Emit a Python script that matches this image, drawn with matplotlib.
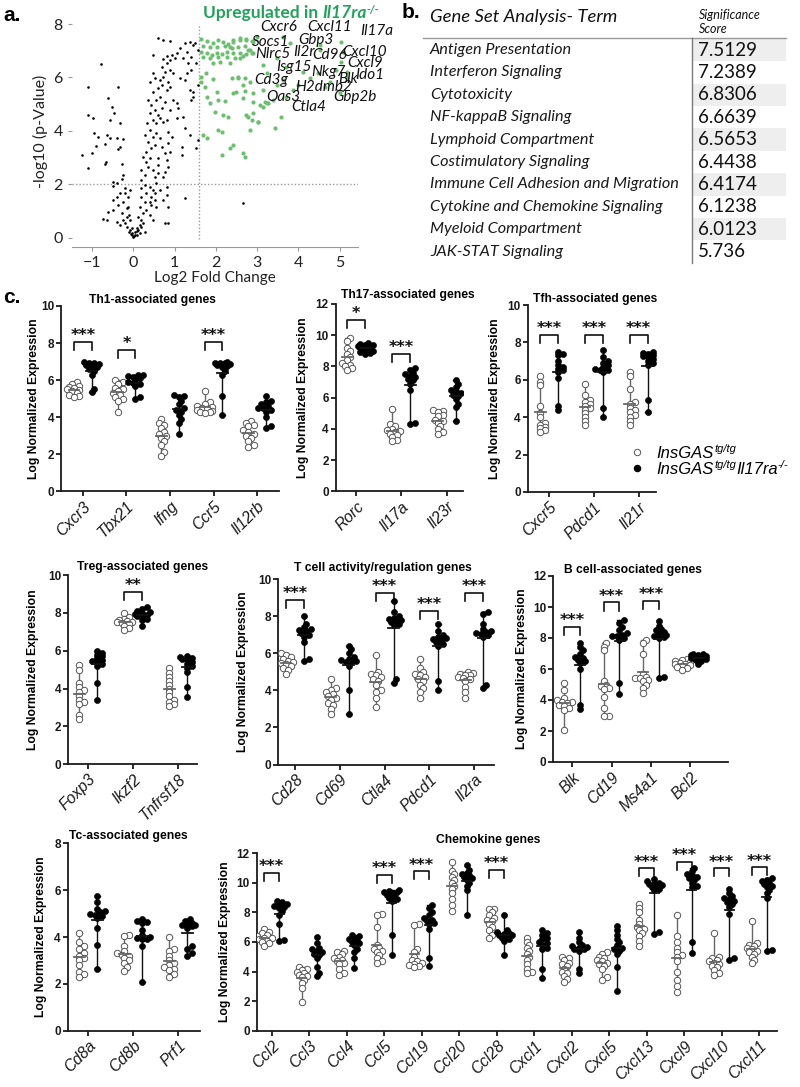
import matplotlib
matplotlib.use("Agg")
import matplotlib.pyplot as plt
import numpy as np
from matplotlib.patches import Rectangle

# ------------------------------------------------------------------ data
# panel a: volcano (log2 fold change, -log10 p)
volc_ns_pts = [
    (-0.78, 6.52), (-1.09, 5.65), (-0.36, 5.65), (-0.62, 5.24), (-0.52, 4.88), (-0.46, 4.66), (-0.56, 4.41),
    (-0.32, 4.31), (-1.09, 4.59), (-0.97, 4.47), (-0.95, 3.91), (-0.86, 3.76), (-0.63, 3.85), (-0.56, 3.72),
    (-0.40, 3.72), (-0.24, 3.68), (-0.89, 3.43), (-0.69, 3.51), (-0.32, 3.41), (-0.36, 3.31), (-1.23, 3.10),
    (-1.01, 3.16), (-0.66, 2.85), (-1.09, 2.60), (-0.69, 2.76), (-0.26, 2.76), (-0.24, 2.35), (-0.28, 2.18),
    (-0.48, 2.07), (-0.50, 1.95), (-0.20, 1.85), (-0.32, 1.66), (-0.40, 1.54), (-0.50, 1.41), (-0.24, 1.35),
    (-0.12, 1.54), (-0.36, 1.22), (-0.16, 1.10), (-0.48, 1.04), (-0.61, 0.97), (-0.28, 0.91), (-0.10, 0.85),
    (-0.73, 0.69), (-0.63, 0.66), (-0.40, 0.60), (-0.20, 0.54), (-0.15, 0.41), (-0.08, 0.29), (-0.04, 0.16),
    (0.00, 0.04), (-0.10, 0.22), (0.04, 0.10), (-0.24, 0.66), (-0.32, 0.47), (-0.16, 0.79), (-0.08, 0.66),
    (-0.04, 0.35), (-0.12, 1.16), (-0.20, 1.66), (-0.08, 1.79), (-0.40, 2.03), (0.02, 0.05), (-0.03, 0.08),
    (0.05, 0.20), (-0.06, 0.12), (0.10, 0.10), (0.08, 0.25),
    (0.12, 0.29), (0.16, 0.47), (0.20, 0.66), (0.12, 0.79), (0.24, 0.91), (0.16, 1.16), (0.28, 1.35),
    (0.20, 1.54), (0.32, 1.66), (0.18, 1.85), (0.28, 1.97), (0.40, 1.91), (0.48, 1.79), (0.52, 1.41),
    (0.44, 1.22), (0.56, 1.16), (0.32, 1.04), (0.40, 0.85), (0.48, 0.66), (0.20, 0.41), (0.28, 0.22),
    (0.08, 0.35), (0.16, 0.16), (0.24, 0.54), (0.18, 2.16), (0.28, 2.35), (0.20, 2.53), (0.36, 2.66),
    (0.31, 2.85), (0.24, 3.03), (0.40, 2.97), (0.48, 2.53), (0.52, 2.28), (0.61, 2.72), (0.32, 3.22),
    (0.44, 3.35), (0.52, 3.47), (0.36, 3.60), (0.28, 3.85), (0.48, 3.78), (0.56, 3.91), (0.65, 3.72),
    (0.40, 4.03), (0.34, 4.28), (0.47, 4.41), (0.56, 4.28), (0.65, 4.47), (0.73, 4.34), (0.81, 4.41),
    (0.40, 4.66), (0.52, 4.78), (0.61, 4.59), (0.69, 4.84), (0.44, 4.97), (0.56, 5.16), (0.65, 5.28),
    (0.77, 5.09), (0.36, 5.16), (0.48, 5.47), (0.61, 5.59), (0.69, 5.72), (0.81, 5.53), (0.89, 5.66),
    (0.40, 5.84), (0.52, 5.97), (0.65, 5.91), (0.73, 6.03), (0.85, 5.84), (0.77, 6.22), (0.89, 6.28),
    (0.97, 6.15), (0.48, 6.15), (0.69, 6.40), (0.81, 6.53), (0.89, 6.65), (1.01, 6.72), (1.05, 6.90),
    (0.93, 6.84), (0.81, 6.80), (0.73, 6.68), (0.48, 6.84), (0.61, 7.47), (0.73, 7.40), (0.89, 7.38),
    (1.13, 7.09), (1.25, 7.28), (1.29, 6.97), (1.21, 6.72), (1.33, 6.53), (1.41, 6.78), (1.45, 7.22),
    (1.37, 7.34), (1.49, 7.30), (1.41, 6.28), (1.29, 6.15), (1.25, 5.91), (1.13, 5.97), (1.37, 5.53),
    (1.45, 5.47), (1.41, 5.16), (1.21, 4.53), (1.25, 4.09), (1.37, 3.85), (1.45, 5.28), (0.89, 4.78),
    (0.97, 5.16), (1.05, 5.03), (1.09, 4.84), (0.85, 3.97), (1.05, 4.47), (0.93, 3.78), (0.81, 2.91),
    (0.85, 2.66), (0.77, 2.47), (0.73, 2.28), (0.81, 1.91), (0.81, 1.60), (0.73, 1.41), (0.85, 1.16),
    (0.77, 0.54), (0.85, 0.54), (1.17, 3.41), (1.17, 3.10), (1.57, 3.66), (1.53, 3.35), (1.25, 1.47),
    (0.85, 3.53), (0.89, 3.22), (0.77, 3.16), (0.61, 2.41), (0.56, 2.03), (0.65, 1.79), (0.52, 1.66),
    (0.44, 1.54), (0.40, 1.35), (0.61, 2.97), (0.69, 3.41), (1.57, 5.72), (1.53, 6.53), (1.57, 7.03),
    (2.65, 1.31),
]
volc_up_pts = [
    (1.65, 7.43), (1.78, 7.38), (1.94, 7.28), (2.06, 7.40), (2.18, 7.34), (2.30, 7.25), (2.42, 7.40),
    (2.58, 7.47), (2.74, 7.43), (2.87, 7.38), (1.69, 7.18), (1.86, 7.15), (2.02, 7.13), (2.22, 7.18),
    (2.38, 7.09), (2.54, 7.15), (2.70, 7.18), (2.82, 7.03), (1.65, 6.97), (1.78, 6.90), (1.90, 6.84),
    (2.02, 6.93), (2.14, 6.88), (2.26, 6.97), (2.42, 6.93), (2.58, 6.90), (2.74, 6.88), (2.87, 6.93),
    (1.69, 6.78), (1.86, 6.72), (2.06, 6.75), (2.26, 6.78), (2.46, 6.72), (2.66, 6.80), (2.10, 6.59),
    (2.34, 6.53), (1.94, 6.55),
    (1.65, 6.03), (1.76, 6.15), (1.94, 5.93), (1.65, 5.84), (1.74, 5.66), (1.78, 5.28), (2.02, 5.47),
    (2.06, 5.16), (1.86, 5.06), (2.22, 5.13), (2.38, 5.97), (2.54, 6.00), (2.66, 5.72), (2.70, 5.51),
    (2.50, 5.47), (2.82, 5.84), (3.07, 4.97), (3.19, 5.09), (3.27, 5.03), (1.98, 4.72), (2.18, 4.59),
    (2.30, 4.53), (2.78, 4.53), (2.87, 4.41), (3.03, 4.34), (1.69, 3.85), (1.78, 3.72), (2.06, 4.03),
    (2.14, 3.97), (2.82, 4.03), (2.42, 3.47), (2.34, 3.35), (2.14, 3.10), (2.66, 3.16), (2.70, 3.03),
    (2.78, 7.03), (2.91, 6.90), (3.15, 6.47), (3.23, 6.15), (3.47, 6.72), (3.63, 5.91), (3.71, 6.40),
    (3.87, 5.53), (4.00, 5.72), (4.12, 6.22), (4.28, 5.97), (4.48, 6.15), (4.64, 5.66), (4.76, 5.84),
    (4.92, 6.28), (5.04, 6.59), (5.08, 6.97), (5.17, 6.22), (5.00, 5.41), (2.91, 5.09), (3.15, 4.91),
    (3.23, 5.06), (3.39, 5.16), (3.59, 4.53), (3.43, 4.09), (2.91, 4.66), (3.03, 4.34), (2.74, 4.59),
    (2.42, 5.41), (2.66, 5.22), (2.70, 5.97), (2.54, 5.97), (3.47, 5.72), (3.71, 5.28), (2.91, 5.41),
    (3.15, 5.53), (5.04, 7.34), (4.52, 7.22), (3.79, 7.28), (4.52, 7.03), (5.17, 6.03), (2.74, 7.40),
    (2.91, 7.34), (2.58, 7.40), (2.42, 7.34), (2.34, 7.15), (2.99, 7.53), (3.63, 7.53), (2.58, 6.72),
]
fc_cut = 1.585
p_cut = 2.0
volc_genes = ['Cxcr6', 'Cxcl11', 'Il17a', 'Socs1', 'Gbp3', 'Nlrc5', 'Il2r', 'Cd96', 'Cxcl10', 'Cxcl9',
              'Isg15', 'Nkg7', 'Blk', 'Ido1', 'Cd3g', 'H2dmb2', 'Gbp2b', 'Oas3', 'Ctla4']
volc_gene_x = [3.53, 4.76, 5.89, 3.33, 4.42, 3.38, 4.13, 4.76, 5.61, 5.61,
               3.89, 4.72, 5.21, 5.73, 3.33, 4.60, 5.37, 3.63, 4.26]
volc_gene_y = [7.90, 7.88, 7.75, 7.34, 7.40, 6.88, 6.94, 6.84, 6.97, 6.53,
               6.40, 6.22, 5.94, 6.09, 5.91, 5.66, 5.28, 5.28, 4.91]

# panel b: gene set analysis
gsa_terms = ['Antigen Presentation', 'Interferon Signaling', 'Cytotoxicity', 'NF-kappaB Signaling',
             'Lymphoid Compartment', 'Costimulatory Signaling', 'Immune Cell Adhesion and Migration',
             'Cytokine and Chemokine Signaling', 'Myeloid Compartment', 'JAK-STAT Signaling']
gsa_scores = [7.5129, 7.2389, 6.8306, 6.6639, 6.5653, 6.4438, 6.4174, 6.1238, 6.0123, 5.736]

# panel c: log normalized expression, InsGAS (wt) vs InsGAS Il17ra-/- (ko)
th1_genes = ['Cxcr3', 'Tbx21', 'Ifng', 'Ccr5', 'Il12rb']
th1_wt = [[5.9, 5.8, 5.7, 5.65, 5.6, 5.5, 5.45, 5.4, 5.3, 5.2, 5.15, 5.1],
          [6.0, 5.9, 5.8, 5.6, 5.5, 5.4, 5.3, 5.2, 5.1, 5.0, 4.9, 4.3],
          [3.9, 3.7, 3.6, 3.4, 3.2, 3.1, 3.0, 2.9, 2.7, 2.5, 2.1, 1.9],
          [5.4, 4.8, 4.7, 4.6, 4.55, 4.5, 4.45, 4.4, 4.35, 4.3, 4.3, 4.25],
          [3.8, 3.7, 3.6, 3.5, 3.3, 3.2, 3.1, 3.0, 2.9, 2.7, 2.5, 2.4]]
th1_ko = [[7.0, 6.95, 6.9, 6.85, 6.8, 6.75, 6.7, 6.6, 6.5, 6.3, 5.5, 5.35],
          [6.3, 6.25, 6.2, 6.15, 6.1, 6.0, 5.9, 5.85, 5.8, 5.7, 5.1, 5.0],
          [5.2, 5.15, 5.1, 4.9, 4.7, 4.5, 4.4, 4.3, 4.1, 3.9, 3.7, 3.1],
          [7.0, 6.95, 6.9, 6.9, 6.85, 6.8, 6.75, 6.7, 6.5, 6.3, 5.15, 4.1],
          [5.15, 4.9, 4.8, 4.7, 4.6, 4.5, 4.5, 4.4, 4.3, 4.0, 3.5, 3.4]]
th1_sig = [(0, '***', 8.07), (1, '*', 7.63), (3, '***', 8.07)]

th17_genes = ['Rorc', 'Il17a', 'Il23r']
th17_wt = [[9.8, 9.6, 9.2, 9.0, 8.8, 8.6, 8.4, 8.2, 8.1, 8.0, 7.9, 7.8],
           [5.3, 4.3, 4.2, 4.0, 3.9, 3.85, 3.8, 3.7, 3.6, 3.5, 3.3, 3.2],
           [5.2, 5.15, 5.1, 4.9, 4.8, 4.6, 4.5, 4.4, 4.2, 4.0, 3.8, 3.7]]
th17_ko = [[9.5, 9.45, 9.4, 9.35, 9.3, 9.2, 9.15, 9.1, 9.0, 8.9, 8.85, 8.8],
           [7.9, 7.8, 7.6, 7.5, 7.4, 7.3, 7.2, 7.1, 6.9, 6.5, 4.4, 4.3],
           [7.1, 6.9, 6.7, 6.5, 6.4, 6.3, 6.2, 6.1, 5.9, 5.6, 5.4, 4.5]]
th17_sig = [(0, '*', 10.98), (1, '***', 8.8)]

tfh_genes = ['Cxcr5', 'Pdcd1', 'Il21r']
tfh_wt = [[6.2, 5.9, 5.7, 4.6, 4.2, 4.0, 3.7, 3.6, 3.5, 3.4, 3.3, 3.2],
          [5.75, 5.2, 4.9, 4.8, 4.7, 4.6, 4.5, 4.4, 4.2, 4.0, 3.8, 3.6],
          [6.4, 6.2, 5.5, 4.8, 4.7, 4.5, 4.4, 4.3, 4.1, 4.0, 3.8, 3.6]]
tfh_ko = [[7.5, 7.4, 7.3, 7.0, 6.8, 6.7, 6.6, 6.5, 6.4, 6.1, 4.6, 4.4],
          [7.6, 7.2, 7.0, 6.9, 6.8, 6.7, 6.6, 6.55, 6.5, 6.4, 4.5, 4.0],
          [7.5, 7.45, 7.4, 7.3, 7.25, 7.2, 7.1, 7.0, 6.9, 6.8, 4.9, 4.3]]
tfh_sig = [(0, '***', 8.4), (1, '***', 8.4), (2, '***', 8.4)]

treg_genes = ['Foxp3', 'Ikzf2', 'Tnfrsf18']
treg_wt = [[5.25, 5.0, 4.3, 4.1, 3.9, 3.8, 3.6, 3.4, 3.3, 3.2, 2.6, 2.4],
           [8.0, 7.8, 7.7, 7.6, 7.55, 7.5, 7.5, 7.45, 7.4, 7.3, 7.2, 7.1],
           [5.1, 4.8, 4.6, 4.4, 4.2, 4.0, 3.8, 3.6, 3.4, 3.3, 3.2, 3.1]]
treg_ko = [[6.0, 5.9, 5.8, 5.7, 5.6, 5.5, 5.45, 5.4, 5.3, 5.2, 4.3, 3.4],
           [8.3, 8.2, 8.1, 8.05, 8.0, 7.95, 7.9, 7.85, 7.8, 7.7, 7.6, 7.3],
           [5.7, 5.65, 5.6, 5.55, 5.5, 5.4, 5.3, 5.2, 5.1, 4.9, 4.1, 3.55]]
treg_sig = [(1, '**', 9.12)]

tcell_genes = ['Cd28', 'Cd69', 'Ctla4', 'Pdcd1', 'Il2ra']
tcell_wt = [[6.0, 5.9, 5.8, 5.7, 5.6, 5.5, 5.45, 5.4, 5.3, 5.2, 5.1, 4.9],
            [4.6, 4.1, 4.0, 3.9, 3.8, 3.7, 3.6, 3.5, 3.3, 3.2, 3.0, 2.7],
            [5.9, 5.0, 4.9, 4.8, 4.7, 4.6, 4.5, 4.3, 4.0, 3.9, 3.6, 3.1],
            [5.7, 5.2, 5.0, 4.9, 4.8, 4.7, 4.6, 4.5, 4.3, 4.1, 3.9, 3.6],
            [5.0, 4.95, 4.9, 4.85, 4.8, 4.7, 4.65, 4.6, 4.5, 4.2, 3.9, 3.6]]
tcell_ko = [[8.0, 7.6, 7.4, 7.3, 7.25, 7.2, 7.1, 7.0, 6.9, 6.6, 5.7, 5.6],
            [6.4, 6.2, 6.0, 5.8, 5.7, 5.65, 5.6, 5.55, 5.5, 5.3, 4.0, 2.7],
            [8.8, 8.2, 8.0, 7.9, 7.85, 7.8, 7.75, 7.7, 7.6, 7.5, 4.6, 4.4],
            [7.6, 7.2, 7.0, 6.9, 6.8, 6.75, 6.7, 6.6, 6.5, 6.4, 4.5, 4.0],
            [8.2, 8.1, 7.6, 7.3, 7.2, 7.15, 7.1, 7.05, 7.0, 6.9, 4.3, 4.1]]
tcell_sig = [(0, '***', 8.87), (2, '***', 9.27), (3, '***', 8.28), (4, '***', 9.27)]

bcell_genes = ['Blk', 'Cd19', 'Ms4a1', 'Bcl2']
bcell_wt = [[5.1, 4.65, 4.1, 4.0, 3.9, 3.85, 3.8, 3.7, 3.6, 3.5, 3.35, 2.06],
            [7.65, 7.45, 7.2, 5.2, 5.0, 4.9, 4.8, 4.7, 4.2, 3.5, 3.0, 2.95],
            [7.9, 7.7, 7.0, 5.7, 5.5, 5.45, 5.4, 5.3, 5.2, 5.0, 4.8, 4.45],
            [6.65, 6.6, 6.5, 6.45, 6.4, 6.35, 6.3, 6.25, 6.2, 6.1, 6.05, 5.95]]
bcell_ko = [[7.65, 7.4, 7.2, 7.0, 6.8, 6.7, 6.6, 6.5, 6.4, 6.0, 3.7, 3.4],
            [9.15, 9.0, 8.7, 8.5, 8.3, 8.2, 8.15, 8.1, 8.0, 7.9, 5.1, 4.4],
            [9.1, 8.8, 8.6, 8.5, 8.4, 8.3, 8.2, 8.1, 8.05, 8.0, 5.5, 5.45],
            [7.0, 6.95, 6.9, 6.9, 6.85, 6.8, 6.75, 6.7, 6.65, 6.6, 6.5, 6.3]]
bcell_sig = [(0, '***', 8.73), (1, '***', 10.3), (2, '***', 10.4)]

tc_genes = ['Cd8a', 'Cd8b', 'Prf1']
tc_wt = [[4.15, 3.8, 3.6, 3.5, 3.3, 3.2, 3.1, 3.0, 2.8, 2.5, 2.4, 2.3],
         [4.1, 4.05, 3.6, 3.4, 3.3, 3.25, 3.2, 3.1, 3.0, 2.9, 2.7, 2.55],
         [4.0, 3.5, 3.4, 3.2, 3.0, 2.9, 2.8, 2.7, 2.65, 2.6, 2.4, 2.3]]
tc_ko = [[5.75, 5.5, 5.2, 5.1, 5.05, 5.0, 4.95, 4.9, 4.8, 4.4, 3.65, 2.65],
         [4.75, 4.7, 4.65, 4.6, 4.3, 4.1, 4.0, 3.95, 3.9, 3.9, 3.6, 2.1],
         [4.75, 4.7, 4.6, 4.55, 4.5, 4.5, 4.45, 4.4, 3.6, 3.5, 3.3, 3.2]]
tc_sig = []

chemo_genes = ['Ccl2', 'Ccl3', 'Ccl4', 'Ccl5', 'Ccl19', 'Ccl20', 'Ccl28', 'Cxcl1', 'Cxcl2', 'Cxcl5',
               'Cxcl13', 'Cxcl9', 'Cxcl10', 'Cxcl11']
chemo_wt = [[6.85, 6.7, 6.6, 6.5, 6.4, 6.3, 6.25, 6.2, 6.1, 6.0, 5.9, 5.75],
            [4.3, 4.2, 4.1, 4.0, 3.9, 3.8, 3.7, 3.6, 3.4, 3.2, 2.9, 1.95],
            [5.4, 5.3, 5.2, 5.0, 4.9, 4.8, 4.7, 4.6, 4.5, 4.2, 3.9, 3.75],
            [7.9, 7.8, 7.0, 5.8, 5.6, 5.5, 5.4, 5.3, 5.1, 4.9, 4.7, 4.6],
            [7.2, 7.15, 5.5, 5.3, 5.0, 4.8, 4.7, 4.6, 4.5, 4.45, 4.4, 4.3],
            [11.4, 10.8, 10.6, 10.4, 10.2, 10.0, 9.8, 9.6, 9.3, 8.9, 8.5, 8.1],
            [8.25, 8.2, 8.0, 7.8, 7.6, 7.5, 7.4, 7.2, 7.0, 6.8, 6.5, 6.3],
            [6.3, 6.0, 5.8, 5.6, 5.4, 5.2, 5.0, 4.8, 4.5, 4.2, 4.0, 3.9],
            [5.0, 4.9, 4.8, 4.6, 4.5, 4.4, 4.2, 4.0, 3.9, 3.7, 3.5, 3.3],
            [5.35, 5.2, 5.0, 4.9, 4.8, 4.7, 4.6, 4.5, 4.4, 4.2, 3.6, 3.45],
            [8.6, 8.3, 8.0, 7.5, 7.2, 7.0, 6.9, 6.8, 6.6, 6.4, 6.1, 5.7],
            [7.8, 6.4, 6.0, 5.6, 5.3, 5.1, 5.0, 4.7, 4.0, 3.4, 3.0, 2.6],
            [6.6, 5.0, 4.9, 4.8, 4.7, 4.6, 4.5, 4.4, 4.3, 4.1, 3.9, 3.8],
            [7.4, 5.9, 5.8, 5.7, 5.6, 5.5, 5.4, 5.3, 5.2, 5.0, 4.8, 4.6]]
chemo_ko = [[8.75, 8.7, 8.6, 8.5, 8.45, 8.4, 8.3, 8.1, 7.85, 7.2, 6.15, 6.1],
            [6.35, 5.9, 5.6, 5.5, 5.4, 5.3, 5.2, 5.1, 4.9, 4.3, 3.9, 3.7],
            [6.5, 6.4, 6.3, 6.2, 6.1, 6.0, 5.9, 5.8, 5.5, 5.3, 4.9, 4.25],
            [9.5, 9.45, 9.4, 9.35, 9.3, 9.2, 9.1, 9.0, 8.9, 8.8, 6.5, 5.1],
            [8.5, 8.3, 8.0, 7.8, 7.6, 7.5, 7.4, 7.3, 7.2, 6.9, 4.9, 4.4],
            [11.2, 10.9, 10.7, 10.6, 10.5, 10.4, 10.3, 10.2, 10.0, 9.8, 9.5, 7.8],
            [7.8, 6.8, 6.7, 6.6, 6.55, 6.5, 6.45, 6.4, 6.3, 6.2, 6.1, 5.1],
            [6.8, 6.6, 6.5, 6.3, 6.2, 6.0, 5.9, 5.8, 5.6, 5.5, 4.2, 3.55],
            [6.7, 6.3, 6.0, 5.8, 5.7, 5.65, 5.6, 5.55, 5.5, 5.4, 4.2, 3.9],
            [7.1, 6.8, 6.5, 6.2, 6.0, 5.8, 5.6, 5.5, 5.4, 5.2, 4.3, 2.7],
            [10.25, 10.1, 10.0, 9.95, 9.9, 9.85, 9.8, 9.7, 9.6, 9.5, 6.7, 6.55],
            [11.0, 10.8, 10.6, 10.5, 10.4, 10.3, 10.2, 10.0, 9.8, 9.7, 6.0, 5.25],
            [9.6, 9.3, 9.1, 9.0, 8.9, 8.8, 8.7, 8.6, 8.4, 7.9, 4.9, 4.75],
            [10.3, 10.2, 10.1, 10.0, 9.9, 9.8, 9.7, 9.5, 9.3, 9.0, 5.45, 5.4]]
chemo_sig = [(0, '***', 10.7), (3, '***', 10.54), (4, '***', 10.77), (6, '***', 10.9),
             (10, '***', 11.0), (11, '***', 11.44), (12, '***', 11.0), (13, '***', 11.04)]

# ------------------------------------------------------------------ figure
W, H = 800, 1087
DPI = 100
fig = plt.figure(figsize=(W / DPI, H / DPI), dpi=DPI)
fig.patch.set_facecolor('white')

ov = fig.add_axes([0, 0, 1, 1], zorder=10)
ov.set_xlim(0, W)
ov.set_ylim(H, 0)
ov.axis('off')
ov.patch.set_alpha(0)

renderer = fig.canvas.get_renderer()
SANS = 'Liberation Sans'
CAL = 'Lato'


def px_axes(l, t, r, b):
    return fig.add_axes([l / W, 1 - b / H, (r - l) / W, (b - t) / H])


def rich(x, y, parts):
    for s, kw in parts:
        kw = dict(kw)
        dy = kw.pop('dy', 0)
        gap = kw.pop('gap', 0)
        t = ov.text(x, y - dy, s, va='baseline', ha='left', **kw)
        x += t.get_window_extent(renderer).width + gap


# ------------------------------------------------------------------ panel a
axa = px_axes(71.7, 16.1, 358.3, 246.7)
axa.set_xlim(-1.49, 5.45)
axa.set_ylim(-0.34, 8.3)
ns = np.array(volc_ns_pts).T
up = np.array(volc_up_pts).T
axa.vlines(fc_cut, -0.05, 7.95, colors='#9a9a9a', linestyles=(0, (1, 1.5)), lw=1)
axa.hlines(p_cut, -1.49, 5.45, colors='#9a9a9a', linestyles=(0, (1, 1.5)), lw=1)
axa.scatter(ns[0], ns[1], s=3.5, c='black', lw=0, zorder=3)
axa.scatter(up[0], up[1], s=9, c='#6cbf6e', lw=0, zorder=3)
for sp in ['left', 'top', 'right']:
    axa.spines[sp].set_visible(False)
axa.spines['bottom'].set_color('#9a9a9a')
axa.set_xticks(range(-1, 6))
axa.set_yticks([0, 2, 4, 6, 8])
axa.tick_params(colors='#9a9a9a', labelcolor='#222222', labelsize=11.5, length=3)
for lab in axa.get_xticklabels() + axa.get_yticklabels():
    lab.set_family(CAL)
axa.set_xlabel('Log2 Fold Change', fontsize=11, family=CAL, labelpad=1, color='#222222')
axa.set_ylabel('-log10 (p-Value)', fontsize=11.5, family=CAL, labelpad=4, color='#222222')
for g, gx, gy in zip(volc_genes, volc_gene_x, volc_gene_y):
    axa.text(gx, gy, g, fontsize=11, style='italic', family=CAL, ha='center', va='center',
             clip_on=False, zorder=5, color='#111111')
green = '#22a25a'
rich(203, 18, [('Upregulated in ', dict(fontsize=12.5, fontweight='bold', family=CAL, color=green)),
               ('Il17ra', dict(fontsize=12.5, fontweight='bold', style='italic', family=CAL, color=green)),
               ('-/-', dict(fontsize=8, fontweight='bold', style='italic', family=CAL, color=green, dy=5))])

# ------------------------------------------------------------------ panel b
ov.text(430, 22, 'Gene Set Analysis- Term', style='italic', fontsize=13.3, family=CAL, va='baseline',
        color='#111111')
ov.text(699, 19, 'Significance', style='italic', fontsize=9, family=CAL, va='baseline', color='#111111')
ov.text(699, 33, 'Score', style='italic', fontsize=9, family=CAL, va='baseline', color='#111111')
ov.plot([423, 786], [38, 38], color='#9a9a9a', lw=1)
ov.plot([692, 692], [38, 263], color='#7a7a7a', lw=1)
for i, (term, score) in enumerate(zip(gsa_terms, gsa_scores)):
    yc = 50 + 22.4 * i
    if i % 2 == 0:
        ov.add_patch(Rectangle((693, yc - 11.2), 93, 22.4, facecolor='#eeeeee', lw=0))
    ov.text(430, yc, term, style='italic', fontsize=11.7, family=CAL, va='center', color='#1a1a1a')
    ov.text(698, yc, str(score), fontsize=13.5, family=CAL, va='center', color='#111111')

# ------------------------------------------------------------------ panel c


def swarm(ax, xc, vals, diam):
    vals = np.asarray(vals, float)
    pts = ax.transData.transform(np.column_stack([np.full(len(vals), xc), vals]))
    ypx = pts[:, 1]
    order = np.argsort(ypx)
    placed = []
    offs = np.zeros(len(vals))
    step = diam * 0.42
    cands = [0.0]
    for j in range(1, 4):
        cands += [j * step, -j * step]
    thr = diam * 0.62
    for i in order:
        best, bestd = 0.0, -1
        for c in cands:
            d = min([np.hypot(c - px, ypx[i] - py) for px, py in placed] + [1e9])
            if d >= thr:
                best = c
                break
            if d > bestd:
                best, bestd = c, d
        offs[i] = best
        placed.append((best, ypx[i]))
    x0 = pts[0, 0]
    inv = ax.transData.inverted()
    return np.array([inv.transform((x0 + o, 0))[0] for o in offs])


def cpanel(rect, genes, wt, ko, ymax, sig, title, tx, ty, tha, ylab_x, xlim):
    l, t, r, b = rect
    ax = px_axes(l, t, r, b)
    ax.set_xlim(*xlim)
    ax.set_ylim(0, ymax)
    ax.spines[['top', 'right']].set_visible(False)
    for s in ['left', 'bottom']:
        ax.spines[s].set_linewidth(1.3)
        ax.spines[s].set_color('#1a1a1a')
    ax.set_yticks(np.arange(0, ymax + 0.1, 2))
    ax.set_xticks(range(len(genes)))
    ax.set_xticklabels(genes, rotation=45, ha='right', va='top', rotation_mode='anchor',
                       fontstyle='italic', fontsize=11.3, family=SANS)
    ax.tick_params(axis='y', length=3.5, width=1.3, pad=1.5, labelsize=8.5, colors='#1a1a1a')
    for lab in ax.get_yticklabels():
        lab.set_fontweight('bold')
        lab.set_family(SANS)
    ax.tick_params(axis='x', length=3.5, width=1.3, pad=2, colors='#1a1a1a')
    off = 0.2
    for i in range(len(genes)):
        for vals, dx, filled in [(wt[i], -off, False), (ko[i], off, True)]:
            xc = i + dx
            v = np.array(vals)
            lc = '#666666' if not filled else '#111111'
            ax.plot([xc, xc], [v.min(), v.max()], color=lc, lw=1, zorder=2)
            for yy in (v.min(), v.max()):
                ax.plot([xc - 0.05, xc + 0.05], [yy, yy], color=lc, lw=1, zorder=2)
            xs = swarm(ax, xc, v, 6.0)
            if filled:
                ax.plot(xs, v, 'o', ms=4.4, mfc='black', mec='black', mew=0.4, ls='none', zorder=3)
            else:
                ax.plot(xs, v, 'o', ms=4.6, mfc='white', mec='#555555', mew=0.7, ls='none', zorder=3)
            ax.plot([xc - 0.12, xc + 0.12], [v.mean()] * 2, color=lc, lw=1.3, zorder=4)
    for (i, stars, lev) in sig:
        leg = 0.045 * ymax
        ax.plot([i - off, i - off, i + off, i + off], [lev - leg, lev, lev, lev - leg],
                color='#111111', lw=1.2, clip_on=False)
        ax.text(i, lev + 0.008 * ymax, stars, ha='center', va='baseline', fontsize=11.5,
                fontweight='bold', family='DejaVu Sans', clip_on=False, color='#111111')
    ov.text(tx, ty, title, ha=tha, va='center', fontsize=8.7, fontweight='bold', family=SANS)
    ov.text(ylab_x, (t + b) / 2, 'Log Normalized Expression', rotation=90, ha='center', va='center',
            fontsize=8.7, fontweight='bold', family=SANS)
    return ax


cpanel((61, 306, 279, 491.3), th1_genes, th1_wt, th1_ko, 10, th1_sig,
       'Th1-associated genes', 152, 300, 'center', 34, (-0.5, 4.5))
cpanel((335.7, 304, 463, 491.3), th17_genes, th17_wt, th17_ko, 12, th17_sig,
       'Th17-associated genes', 408, 295, 'center', 303, (-0.45, 2.36))
cpanel((527.7, 305, 655.7, 492), tfh_genes, tfh_wt, tfh_ko, 10, tfh_sig,
       'Tfh-associated genes', 532.7, 299, 'left', 495, (-0.48, 2.38))
cpanel((68.3, 575, 196.7, 764.3), treg_genes, treg_wt, treg_ko, 10, treg_sig,
       'Treg-associated genes', 143, 567, 'center', 33, (-0.44, 2.41))
cpanel((278.3, 579, 494, 764.5), tcell_genes, tcell_wt, tcell_ko, 10, tcell_sig,
       'T cell activity/regulation genes', 383, 568, 'center', 243, (-0.37, 4.44))
cpanel((553.3, 576, 728, 762), bcell_genes, bcell_wt, bcell_ko, 12, bcell_sig,
       'B cell-associated genes', 633, 570, 'center', 522, (-0.48, 3.96))
cpanel((67.7, 843.3, 200, 1030.7), tc_genes, tc_wt, tc_ko, 8, tc_sig,
       'Tc-associated genes', 128, 836, 'center', 41, (-0.46, 2.48))
cpanel((256.7, 853.3, 776.7, 1030.7), chemo_genes, chemo_wt, chemo_ko, 12, chemo_sig,
       'Chemokine genes', 488, 840, 'center', 225, (-0.4, 13.47))

# legend
ov.plot(636.7, 451.7, 'o', ms=4.6, mfc='white', mec='#555555', mew=0.7)
ov.plot(636.7, 468.3, 'o', ms=4.4, mfc='black', mec='black')
it = dict(fontsize=12, style='italic', family=SANS)
sup = dict(fontsize=8, style='italic', family=SANS, dy=6)
rich(656.7, 457.5, [('InsGAS', it), ('tg/tg', sup)])
rich(656.7, 474.5, [('InsGAS', it), ('tg/tg', sup), ('Il17ra', it), ('-/-', sup)])

# panel letters
ov.text(3, 20.7, 'a.', fontsize=15, fontweight='bold', family=SANS, va='baseline')
ov.text(402, 18.3, 'b.', fontsize=15, fontweight='bold', family=SANS, va='baseline')
ov.text(3, 303, 'c.', fontsize=15, fontweight='bold', family=SANS, va='baseline')

fig.savefig('out.png', dpi=DPI)
